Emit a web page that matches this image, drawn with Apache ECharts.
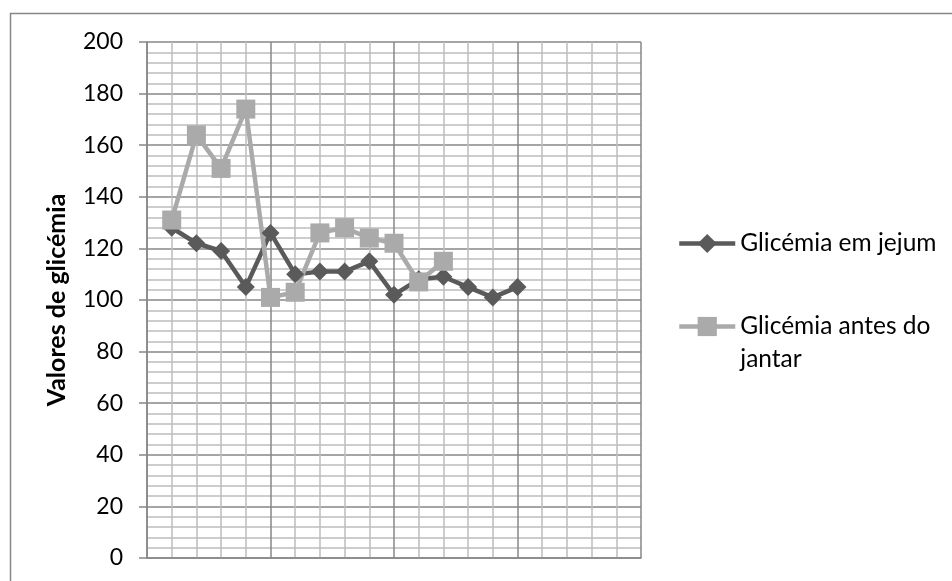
<!DOCTYPE html>
<html>
<head>
<meta charset="utf-8">
<title>Glicémia</title>
<script src="https://cdn.jsdelivr.net/npm/echarts@6/dist/echarts.min.js"></script>
<style>
  html, body { margin: 0; padding: 0; background: #fff; }
  #chart { width: 952px; height: 581px; }
</style>
</head>
<body>
<div id="chart"></div>
<script>
// Measurement day (x position of each reading)
const days = [1, 2, 3, 4, 5, 6, 7, 8, 9, 10, 11, 12, 13, 14, 15];
// Fasting glucose readings
const jejum = [128, 122, 119, 105, 126, 110, 111, 111, 115, 102, 108, 109, 105, 101, 105];
// Pre-dinner glucose readings
const antesJantar = [131, 164, 151, 174, 101, 103, 126, 128, 124, 122, 107, 115];
// Y-axis tick values
const yTicks = [0, 20, 40, 60, 80, 100, 120, 140, 160, 180, 200];

const seriesNames = ['Glicémia em jejum', 'Glicémia antes do jantar'];
const FONT = 'Lato, "Open Sans", sans-serif';

const pairs = (xs, ys) => ys.map((v, i) => [xs[i], v]);

const chart = echarts.init(document.getElementById('chart'), null, { renderer: 'canvas' });

chart.setOption({
  animation: false,
  backgroundColor: '#ffffff',
  textStyle: { fontFamily: FONT },
  graphic: [{
    type: 'rect',
    left: 8, top: 11,
    shape: { x: 0, y: 0, width: 1000, height: 700 },
    style: { fill: 'none', stroke: '#878787', lineWidth: 1.5 },
    silent: true
  }],
  grid: { left: 147, right: 311, top: 42, bottom: 23, containLabel: false },
  xAxis: {
    type: 'value',
    min: 0, max: 20, interval: 5,
    axisLine: { show: true, lineStyle: { color: '#878787', width: 1.5 } },
    axisTick: { show: false },
    axisLabel: { show: false },
    splitLine: { show: true, lineStyle: { color: '#878787', width: 1.5 } },
    minorTick: { show: false, splitNumber: 5 },
    minorSplitLine: { show: true, lineStyle: { color: '#bdbdbd', width: 1.5 } }
  },
  yAxis: {
    type: 'value',
    min: yTicks[0], max: yTicks[yTicks.length - 1], interval: yTicks[1] - yTicks[0],
    name: 'Valores de glicémia',
    nameLocation: 'middle',
    nameRotate: 90,
    nameGap: 78,
    nameTextStyle: { fontFamily: FONT, fontSize: 25, fontWeight: 'bold', color: '#000' },
    axisLine: { show: true, lineStyle: { color: '#878787', width: 1.5 } },
    axisTick: { show: true, inside: false, length: 8, lineStyle: { color: '#878787', width: 1.5 } },
    axisLabel: { margin: 24, fontSize: 23, color: '#000', fontFamily: FONT },
    splitLine: { show: true, lineStyle: { color: '#878787', width: 1.5 } },
    minorTick: { show: false, splitNumber: 5 },
    minorSplitLine: { show: true, lineStyle: { color: '#bdbdbd', width: 1.5 } }
  },
  legend: {
    orient: 'vertical',
    left: 677,
    top: 227,
    padding: 0,
    itemGap: 17,
    itemWidth: 56,
    itemHeight: 24,
    lineStyle: { width: 4.5 },
    data: seriesNames,
    // the wrapped entry keeps its first line level with the icon
    formatter: function (name) {
      return name === seriesNames[1] ? '\nGlicémia antes do\njantar' : name;
    },
    textStyle: { fontFamily: FONT, fontSize: 24.5, color: '#000', lineHeight: 33 }
  },
  series: [
    {
      name: seriesNames[0],
      type: 'line',
      data: pairs(days, jejum),
      symbol: 'diamond',
      symbolSize: 18,
      lineStyle: { color: '#5a5a5a', width: 4.5 },
      itemStyle: { color: '#5a5a5a' }
    },
    {
      name: seriesNames[1],
      type: 'line',
      data: pairs(days, antesJantar),
      symbol: 'rect',
      symbolSize: 19,
      lineStyle: { color: '#aaaaaa', width: 4.5 },
      itemStyle: { color: '#aaaaaa' }
    }
  ]
});
</script>
</body>
</html>
